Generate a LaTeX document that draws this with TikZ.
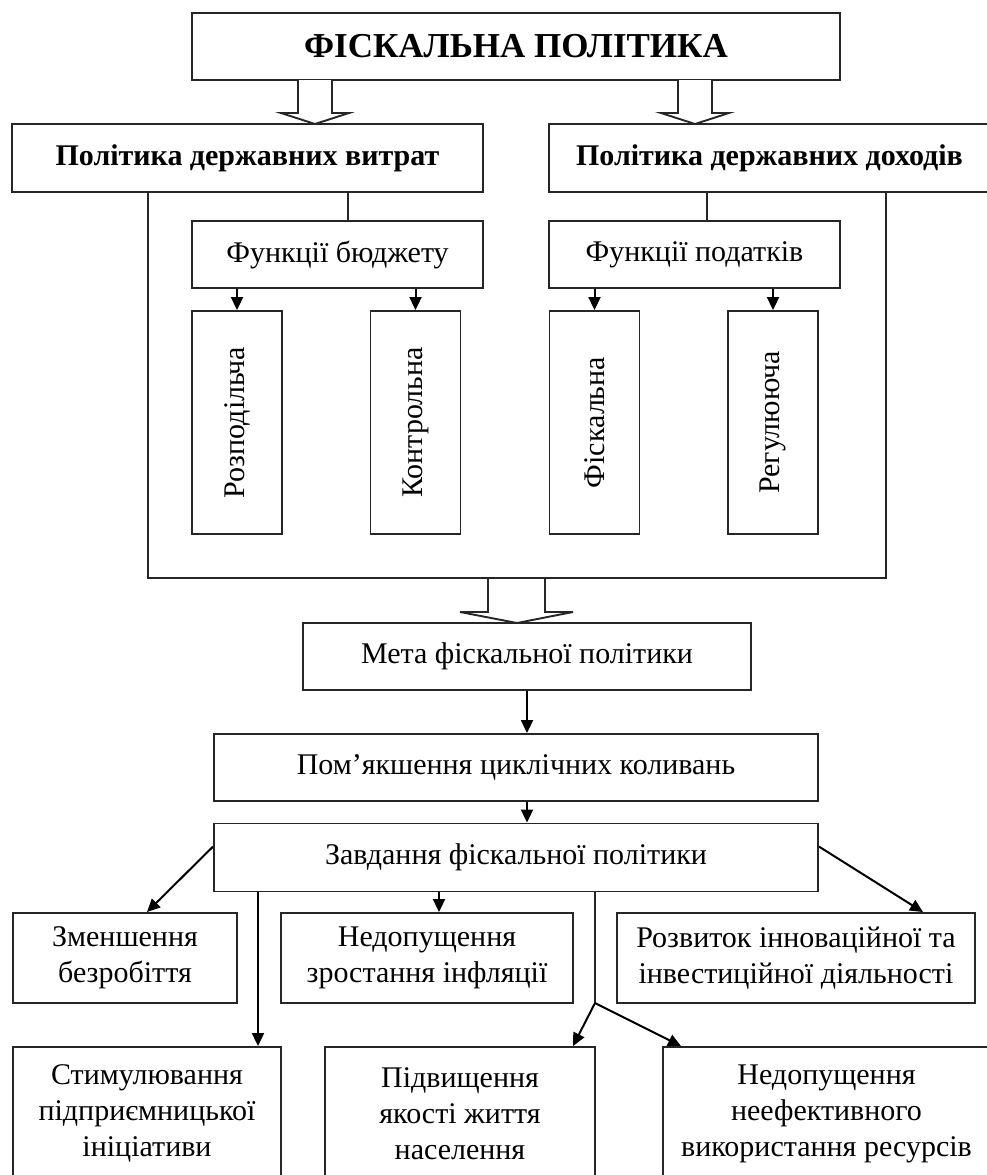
\documentclass[tikz,border=0pt]{standalone}
\usepackage{fontspec}
\setmainfont{Liberation Serif}
\usetikzlibrary{arrows.meta,calc}
\begin{document}
\begin{tikzpicture}[x=1pt,y=-1pt,
  box/.style={draw=black!85,line width=1.9pt,rectangle,inner sep=0pt,align=center,
    font=\fontsize{30}{36}\selectfont},
  arr/.style={draw=black,line width=2pt,-{Triangle[length=13pt,width=12pt]}},
  ln/.style={draw=black!85,line width=1.9pt},
  hollow/.style={draw=black!85,line width=1.9pt,fill=white,line join=miter}]
\useasboundingbox (0,0) rectangle (987,1175);

% boxes
\node[box,minimum width=648pt,minimum height=67pt,font=\fontsize{35}{42}\selectfont\bfseries] (title) at (516,46.5) {ФІСКАЛЬНА ПОЛІТИКА};
\node[box,minimum width=471pt,minimum height=68pt,font=\fontsize{30}{37}\selectfont\bfseries] (exp) at (247.5,158) {Політика державних витрат};
\node[box,minimum width=441pt,minimum height=68pt,font=\fontsize{30}{37}\selectfont\bfseries] (rev) at (769.5,158) {Політика державних доходів};
\node[box,minimum width=291pt,minimum height=67pt] (bud) at (337.5,254.5) {Функції бюджету};
\node[box,minimum width=291pt,minimum height=67pt] (tax) at (694.5,254.5) {Функції податків};
\node[box,minimum width=90pt,minimum height=223pt] (r1) at (237,422.5) {\rotatebox{90}{Розподільча}};
\node[box,minimum width=90pt,minimum height=223pt] (r2) at (415.5,422.5) {\rotatebox{90}{Контрольна}};
\node[box,minimum width=90pt,minimum height=223pt] (r3) at (594.5,422.5) {\rotatebox{90}{Фіскальна}};
\node[box,minimum width=90pt,minimum height=223pt] (r4) at (773,422.5) {\rotatebox{90}{Регулююча}};
\node[box,minimum width=448pt,minimum height=67pt] (meta) at (527,656.5) {Мета фіскальної політики};
\node[box,minimum width=604pt,minimum height=67pt] (pom) at (516,767.5) {Пом’якшення циклічних коливань};
\node[box,minimum width=604pt,minimum height=68pt] (zav) at (516,857.5) {Завдання фіскальної політики};
\node[box,minimum width=224pt,minimum height=90pt] (z1) at (125,958) {\raisebox{-4pt}{\parbox{220pt}{\centering Зменшення\\безробіття}}};
\node[box,minimum width=292pt,minimum height=90pt] (z2) at (427,958) {\raisebox{-4pt}{\parbox{288pt}{\centering Недопущення\\зростання інфляції}}};
\node[box,minimum width=358pt,minimum height=90pt] (z3) at (796,958) {\raisebox{-4pt}{\parbox{354pt}{\centering Розвиток інноваційної та\\інвестиційної діяльності}}};
\node[box,minimum width=268pt,minimum height=133pt] (s1) at (147,1113.5) {Стимулювання\\підприємницької\\ініціативи};
\node[box,minimum width=270pt,minimum height=133pt] (s2) at (460,1113.5) {Підвищення\\якості життя\\населення};
\node[box,minimum width=327pt,minimum height=133pt] (s3) at (826.5,1113.5) {Недопущення\\неефективного\\використання ресурсів};

% hollow arrows
\draw[hollow] (298,80)--(298,113)--(281,113)--(315,124)--(349,113)--(332,113)--(332,80);
\draw[hollow] (678,80)--(678,113)--(661,113)--(695,124)--(729,113)--(712,113)--(712,80);
\draw[hollow] (488,578)--(488,612)--(460,612)--(517,623)--(573,612)--(545,612)--(545,578);

% connectors in upper part
\draw[ln] ($(bud.north)+(10.5,0)$) coordinate (c1) -- (c1 |- exp.south);
\draw[ln] ($(tax.north)+(12.5,0)$) coordinate (c2) -- (c2 |- rev.south);
\coordinate (bl) at (148,578);
\coordinate (br) at (886,578);
\draw[ln] (bl |- exp.south) -- (bl) -- (br) -- (br |- rev.south);
\draw[arr] (bud.south -| r1.north) -- (r1.north);
\draw[arr] (bud.south -| r2.north) -- (r2.north);
\draw[arr] (tax.south -| r3.north) -- (r3.north);
\draw[arr] (tax.south -| r4.north) -- (r4.north);

% middle chain
\draw[arr] (meta.south) -- (meta.south |- pom.north);
\draw[arr] (meta.south |- pom.south) -- (meta.south |- zav.north);

% tasks
\draw[arr] ($(zav.north west)+(0,24)$) -- ($(z1.north)+(22,0)$);
\draw[arr] ($(zav.north east)+(0,24)$) -- ($(z3.north)+(127,0)$);
\coordinate (c3) at (258,0);
\draw[arr] (c3 |- zav.south) -- (c3 |- s1.north);
\draw[arr] ($(zav.south)+(-77,0)$) coordinate (c4) -- (c4 |- z2.north);
\coordinate (fork) at (595,1003);
\draw[ln] (fork |- zav.south) -- (fork);
\draw[arr] (fork) -- ($(s2.north)+(113,0)$);
\draw[arr] (fork) -- ($(s3.north)+(-145.5,0)$);
\end{tikzpicture}
\end{document}
